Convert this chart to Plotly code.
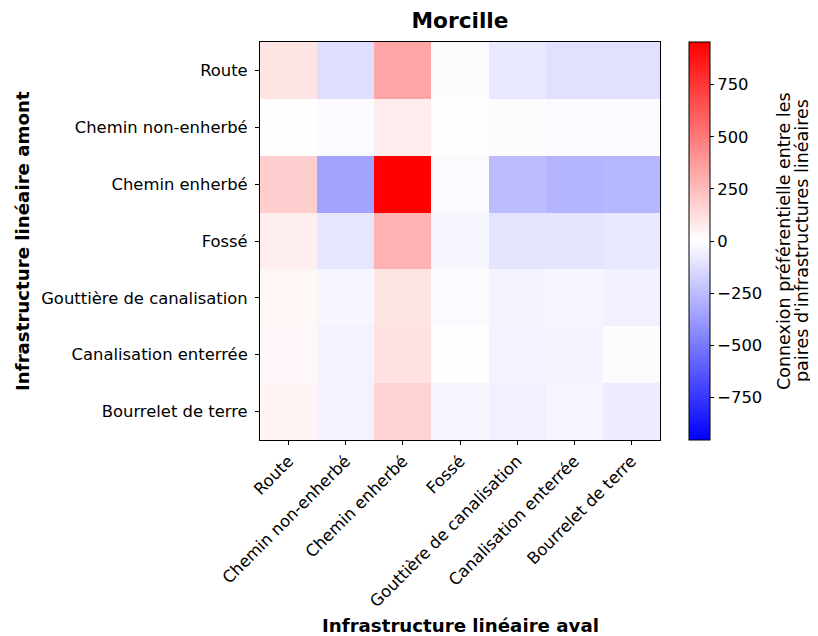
import plotly.graph_objects as go

categories = ["Route", "Chemin non-enherbé", "Chemin enherbé", "Fossé",
              "Gouttière de canalisation", "Canalisation enterrée", "Bourrelet de terre"]

# rows = amont (y), columns = aval (x)
row_route = [100, -125, 337, -10, -86, -112, -112]
row_chemin_non_enherbe = [2, -19, 71, -3, -11, -19, -19]
row_chemin_enherbe = [180, -348, 955, -19, -251, -281, -270]
row_fosse = [64, -94, 288, -32, -101, -97, -86]
row_gouttiere = [34, -32, 101, -19, -41, -34, -49]
row_canalisation = [30, -45, 112, 3, -45, -41, -11]
row_bourrelet = [37, -45, 165, -32, -56, -37, -67]

z = [row_route, row_chemin_non_enherbe, row_chemin_enherbe, row_fosse,
     row_gouttiere, row_canalisation, row_bourrelet]

vmax = 955
colorbar_ticks = [-750, -500, -250, 0, 250, 500, 750]

W, H = 810, 628  # page body has an 8px margin
L, T, PW, PH = 252, 34, 400, 398


def px_x(p):
    return (p - L) / PW


def px_y(p):
    return 1 - (p - T) / PH


fig = go.Figure(go.Heatmap(
    z=z, x=categories, y=categories,
    zmin=-vmax, zmax=vmax,
    colorscale=[[0, "rgb(0,0,255)"], [0.5, "rgb(255,255,255)"], [1, "rgb(255,0,0)"]],
    colorbar=dict(
        x=px_x(681), xanchor="left", xref="paper",
        y=0.5, yanchor="middle", len=1.0, lenmode="fraction", ypad=0, xpad=0,
        thickness=21, thicknessmode="pixels",
        outlinewidth=1, outlinecolor="black",
        tickvals=colorbar_ticks,
        ticktext=[str(v).replace("-", "−") for v in colorbar_ticks],
        ticks="outside", ticklen=4, tickcolor="black",
        tickfont=dict(size=16.4, color="black"),
    ),
))

fig.update_layout(
    width=W, height=H,
    margin=dict(l=L, r=W - L - PW, t=T, b=H - T - PH, autoexpand=False),
    paper_bgcolor="white", plot_bgcolor="white",
    font=dict(family="DejaVu Sans", color="black", size=16.4),
    title=dict(text="<b>Morcille</b>", x=0.5, xref="paper", xanchor="center",
               y=1 - 12 / H, yref="container", yanchor="middle",
               font=dict(size=21.7, color="black")),
    annotations=[
        dict(text="<b>Infrastructure linéaire amont</b>", textangle=-90,
             x=px_x(14), xref="paper", y=0.5, yref="paper", showarrow=False,
             xanchor="center", yanchor="middle", font=dict(size=18.2)),
        dict(text="<b>Infrastructure linéaire aval</b>",
             x=0.5, xref="paper", y=px_y(617), yref="paper", showarrow=False,
             xanchor="center", yanchor="middle", font=dict(size=18.2)),
        dict(text="Connexion préférentielle entre les", textangle=-90,
             x=px_x(776), xref="paper", y=0.5, yref="paper", showarrow=False,
             xanchor="center", yanchor="middle", font=dict(size=17.5)),
        dict(text="paires d'infrastructures linéaires", textangle=-90,
             x=px_x(794), xref="paper", y=0.5, yref="paper", showarrow=False,
             xanchor="center", yanchor="middle", font=dict(size=17.5)),
    ],
)

fig.update_xaxes(
    tickangle=-45, ticks="outside", ticklen=4, tickcolor="black",
    showline=True, linecolor="black", linewidth=1, mirror=True,
    tickfont=dict(size=16.4), automargin=False,
    showgrid=False, zeroline=False,
)
fig.update_yaxes(
    autorange="reversed", ticks="outside", ticklen=4, tickcolor="black",
    showline=True, linecolor="black", linewidth=1, mirror=True,
    tickfont=dict(size=16.4), automargin=False, ticklabelstandoff=4,
    showgrid=False, zeroline=False,
)

fig.write_html("out.html")
